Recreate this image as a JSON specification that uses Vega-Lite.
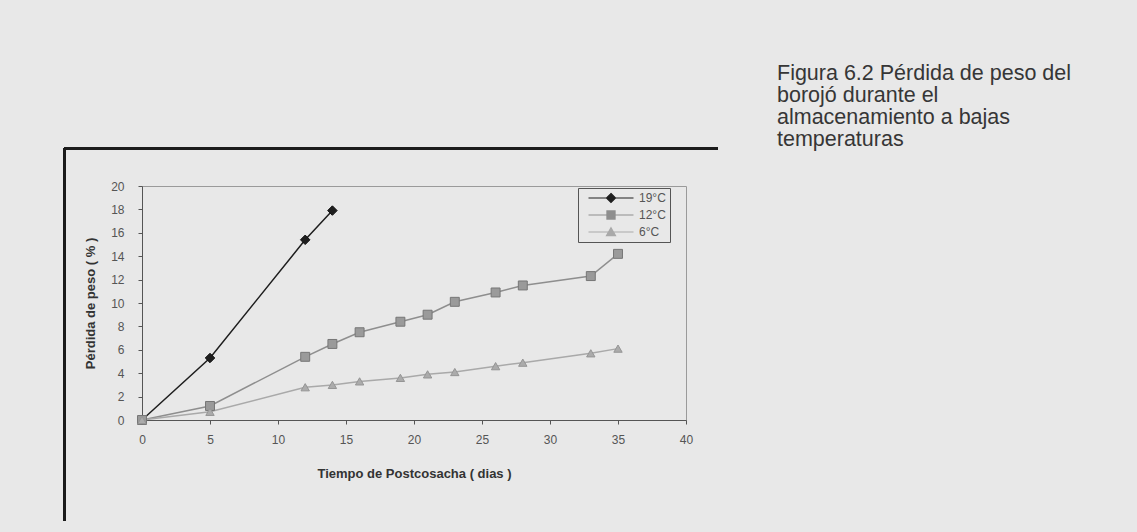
{
  "$schema": "https://vega.github.io/schema/vega-lite/v6.json",
  "width": 544,
  "height": 234,
  "autosize": {"type": "none"},
  "padding": {"left": 142, "top": 186, "right": 451, "bottom": 112},
  "background": "#e8e8e8",
  "title": {
    "text": ["Figura 6.2 Pérdida de peso del", "borojó durante el", "almacenamiento a bajas", "temperaturas"],
    "anchor": "start",
    "frame": "group",
    "orient": "top",
    "font": "Liberation Sans",
    "fontSize": 21.5,
    "fontWeight": "normal",
    "color": "#363636",
    "lineHeight": 22,
    "baseline": "top",
    "offset": 0,
    "dx": 635,
    "dy": 3
  },
  "data": {
    "values": [
      {"serie": "19°C", "dias": 0, "perdida": 0},
      {"serie": "19°C", "dias": 5, "perdida": 5.3},
      {"serie": "19°C", "dias": 12, "perdida": 15.4},
      {"serie": "19°C", "dias": 14, "perdida": 17.9},
      {"serie": "12°C", "dias": 0, "perdida": 0},
      {"serie": "12°C", "dias": 5, "perdida": 1.2},
      {"serie": "12°C", "dias": 12, "perdida": 5.4},
      {"serie": "12°C", "dias": 14, "perdida": 6.5},
      {"serie": "12°C", "dias": 16, "perdida": 7.5},
      {"serie": "12°C", "dias": 19, "perdida": 8.4},
      {"serie": "12°C", "dias": 21, "perdida": 9.0},
      {"serie": "12°C", "dias": 23, "perdida": 10.1},
      {"serie": "12°C", "dias": 26, "perdida": 10.9},
      {"serie": "12°C", "dias": 28, "perdida": 11.5},
      {"serie": "12°C", "dias": 33, "perdida": 12.3},
      {"serie": "12°C", "dias": 35, "perdida": 14.2},
      {"serie": "6°C", "dias": 0, "perdida": 0},
      {"serie": "6°C", "dias": 5, "perdida": 0.7},
      {"serie": "6°C", "dias": 12, "perdida": 2.8},
      {"serie": "6°C", "dias": 14, "perdida": 3.0},
      {"serie": "6°C", "dias": 16, "perdida": 3.3},
      {"serie": "6°C", "dias": 19, "perdida": 3.6},
      {"serie": "6°C", "dias": 21, "perdida": 3.9},
      {"serie": "6°C", "dias": 23, "perdida": 4.1},
      {"serie": "6°C", "dias": 26, "perdida": 4.6},
      {"serie": "6°C", "dias": 28, "perdida": 4.9},
      {"serie": "6°C", "dias": 33, "perdida": 5.7},
      {"serie": "6°C", "dias": 35, "perdida": 6.1}
    ]
  },
  "layer": [
    {
      "mark": {"type": "rule", "color": "#1c1c1c", "strokeWidth": 2},
      "encoding": {
        "x": {"datum": -5.7, "type": "quantitative", "scale": {"domain": [0, 40], "nice": false}},
        "x2": {"datum": 42.35},
        "y": {"datum": 23.2, "type": "quantitative", "scale": {"domain": [0, 20], "nice": false}}
      }
    },
    {
      "mark": {"type": "rule", "color": "#1c1c1c", "strokeWidth": 2},
      "encoding": {
        "x": {"datum": -5.7, "type": "quantitative", "scale": {"domain": [0, 40], "nice": false}},
        "y": {"datum": 23.2, "type": "quantitative", "scale": {"domain": [0, 20], "nice": false}},
        "y2": {"datum": -8.63}
      }
    },
    {
      "mark": {"type": "line", "strokeWidth": 1.5},
      "encoding": {
        "x": {
          "field": "dias",
          "type": "quantitative",
          "scale": {"domain": [0, 40], "nice": false},
          "axis": {"title": "Tiempo de Postcosacha ( dias )", "values": [0, 5, 10, 15, 20, 25, 30, 35, 40]}
        },
        "y": {
          "field": "perdida",
          "type": "quantitative",
          "scale": {"domain": [0, 20], "nice": false},
          "axis": {"title": "Pérdida de peso ( % )", "values": [0, 2, 4, 6, 8, 10, 12, 14, 16, 18, 20]}
        },
        "color": {
          "field": "serie",
          "type": "nominal",
          "scale": {"domain": ["19°C", "12°C", "6°C"], "range": ["#1e1e1e", "#8e8e8e", "#a9a9a9"]},
          "legend": {
            "title": null,
            "orient": "none",
            "legendX": 436,
            "legendY": 2,
            "padding": 4,
            "strokeColor": "#555555",
            "fillColor": "#e8e8e8",
            "symbolSize": 81,
            "symbolOffset": 23,
            "symbolStrokeWidth": 1.2,
            "symbolOpacity": 1,
            "labelOffset": 22,
            "labelFont": "Liberation Sans",
            "labelFontSize": 12,
            "labelColor": "#555555",
            "rowPadding": 3
          }
        }
      }
    },
    {
      "mark": {"type": "point", "filled": true, "opacity": 0},
      "encoding": {
        "x": {"field": "dias", "type": "quantitative", "scale": {"domain": [0, 40], "nice": false}},
        "y": {"field": "perdida", "type": "quantitative", "scale": {"domain": [0, 20], "nice": false}},
        "color": {"field": "serie", "type": "nominal", "scale": {"domain": ["19°C", "12°C", "6°C"], "range": ["#1e1e1e", "#8e8e8e", "#a9a9a9"]}},
        "shape": {
          "field": "serie",
          "type": "nominal",
          "scale": {
            "domain": ["19°C", "12°C", "6°C"],
            "range": [
              "M-5,0L5,0M0,-1L1,0L0,1L-1,0Z",
              "M-5,0L5,0M-0.9,-0.9L0.9,-0.9L0.9,0.9L-0.9,0.9Z",
              "M-5,0L5,0M0,-0.95L1,0.8L-1,0.8Z"
            ]
          },
          "legend": {
            "title": null,
            "orient": "none",
            "legendX": 436,
            "legendY": 2,
            "padding": 4,
            "strokeColor": "#555555",
            "fillColor": "#e8e8e8",
            "symbolSize": 81,
            "symbolOffset": 23,
            "symbolStrokeWidth": 1.2,
            "symbolOpacity": 1,
            "labelOffset": 22,
            "labelFont": "Liberation Sans",
            "labelFontSize": 12,
            "labelColor": "#555555",
            "rowPadding": 3
          }
        }
      }
    },
    {
      "transform": [{"filter": {"field": "serie", "equal": "19°C"}}],
      "mark": {"type": "point", "shape": "diamond", "filled": true, "fill": "#1e1e1e", "stroke": "#111111", "strokeWidth": 1, "size": 90, "opacity": 1},
      "encoding": {
        "x": {"field": "dias", "type": "quantitative", "scale": {"domain": [0, 40], "nice": false}},
        "y": {"field": "perdida", "type": "quantitative", "scale": {"domain": [0, 20], "nice": false}}
      }
    },
    {
      "transform": [{"filter": {"field": "serie", "equal": "12°C"}}],
      "mark": {"type": "point", "shape": "square", "filled": true, "fill": "#9a9a9a", "stroke": "#767676", "strokeWidth": 1, "size": 80, "opacity": 1},
      "encoding": {
        "x": {"field": "dias", "type": "quantitative", "scale": {"domain": [0, 40], "nice": false}},
        "y": {"field": "perdida", "type": "quantitative", "scale": {"domain": [0, 20], "nice": false}}
      }
    },
    {
      "transform": [{"filter": {"field": "serie", "equal": "6°C"}}],
      "mark": {"type": "point", "shape": "triangle-up", "filled": true, "fill": "#ababab", "stroke": "#959595", "strokeWidth": 1, "size": 70, "opacity": 1},
      "encoding": {
        "x": {"field": "dias", "type": "quantitative", "scale": {"domain": [0, 40], "nice": false}},
        "y": {"field": "perdida", "type": "quantitative", "scale": {"domain": [0, 20], "nice": false}}
      }
    }
  ],
  "config": {
    "view": {"stroke": "#9a9a9a", "strokeWidth": 1},
    "axis": {
      "grid": false,
      "domainColor": "#555555",
      "tickColor": "#555555",
      "tickSize": 4,
      "labelFlush": false,
      "labelOverlap": false,
      "labelFont": "Liberation Sans",
      "labelFontSize": 12,
      "labelColor": "#555555",
      "titleFont": "Liberation Sans",
      "titleFontSize": 13,
      "titleFontWeight": "bold",
      "titleColor": "#333333"
    },
    "axisX": {"tickCount": 20, "labelPadding": 10, "titlePadding": 22},
    "axisY": {"tickCount": 20, "labelPadding": 14, "titlePadding": 13}
  }
}
